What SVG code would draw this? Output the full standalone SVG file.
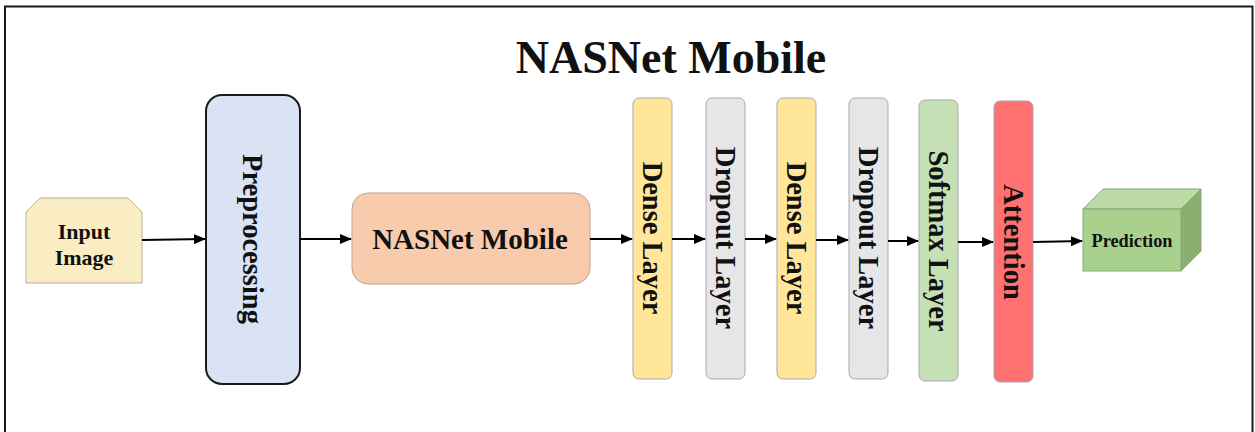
<svg xmlns="http://www.w3.org/2000/svg" width="1255" height="432" viewBox="0 0 1255 432">
  <style>
    .lbl { font-family: "Liberation Serif", "Times New Roman", serif; font-weight: bold; fill: #111; text-anchor: middle; }
    .vt { font-size: 28.5px; dominant-baseline: central; }
    .layer { stroke: #a7a9b3; stroke-width: 1; }
    .conn { stroke: #000; stroke-width: 2; fill: none; marker-end: url(#arrow); }
  </style>
  <defs>
    <marker id="arrow" markerWidth="12" markerHeight="10" refX="11" refY="5" orient="auto" markerUnits="userSpaceOnUse">
      <path d="M0,0 L12,5 L0,10 Z" fill="#000"/>
    </marker>
  </defs>

  <rect x="0" y="0" width="1255" height="432" fill="#fff"/>
  <!-- outer frame, open at the bottom -->
  <path d="M5,440 V6.5 H1252.5 V440" fill="none" stroke="#1a1a1a" stroke-width="2"/>

  <text class="lbl" x="671" y="73" font-size="46">NASNet Mobile</text>

  <g id="input-image">
    <path d="M26,212 L40,198 L128,198 L142,212 L142,283 L26,283 Z" fill="#FBEDC3" stroke="#b5b0a0" stroke-width="1"/>
    <text class="lbl" x="84" y="239" font-size="22">Input</text>
    <text class="lbl" x="84" y="265" font-size="22">Image</text>
  </g>

  <g id="preprocessing">
    <rect x="206" y="95" width="94" height="289" rx="16" fill="#DAE3F3" stroke="#1a1a1a" stroke-width="2"/>
    <text class="lbl vt" transform="translate(252,239) rotate(90)">Preprocessing</text>
  </g>

  <g id="nasnet-mobile">
    <rect x="352" y="193" width="238" height="91" rx="16" fill="#F8CBAD" stroke="#b9a595" stroke-width="1"/>
    <text class="lbl" x="470" y="249" font-size="29">NASNet Mobile</text>
  </g>

  <g id="dense-1">
    <rect class="layer" x="633" y="98" width="39" height="281" rx="6" fill="#FFE699"/>
    <text class="lbl vt" transform="translate(652.5,238) rotate(90)">Dense Layer</text>
  </g>

  <g id="dropout-1">
    <rect class="layer" x="706" y="98" width="39" height="281" rx="6" fill="#E6E6E8"/>
    <text class="lbl vt" transform="translate(725.5,238) rotate(90)">Dropout Layer</text>
  </g>

  <g id="dense-2">
    <rect class="layer" x="777" y="98" width="39" height="281" rx="6" fill="#FFE699"/>
    <text class="lbl vt" transform="translate(796.5,238) rotate(90)">Dense Layer</text>
  </g>

  <g id="dropout-2">
    <rect class="layer" x="849" y="98" width="39" height="281" rx="6" fill="#E6E6E8"/>
    <text class="lbl vt" transform="translate(868.5,238) rotate(90)">Dropout Layer</text>
  </g>

  <g id="softmax">
    <rect class="layer" x="919" y="100" width="39" height="281" rx="6" fill="#C5E0B4"/>
    <text class="lbl vt" transform="translate(938.5,241) rotate(90)">Softmax Layer</text>
  </g>

  <g id="attention">
    <rect class="layer" x="994" y="101" width="39" height="281" rx="6" fill="#FF7170"/>
    <text class="lbl vt" transform="translate(1013.5,242) rotate(90)">Attention</text>
  </g>

  <g id="prediction">
    <path d="M1083,209 L1103,189 L1201,189 L1181,209 Z" fill="#BCDBA6" stroke="#8da57f" stroke-width="1"/>
    <path d="M1181,209 L1201,189 L1201,251 L1181,271 Z" fill="#8AAE6E" stroke="#8da57f" stroke-width="1"/>
    <rect x="1083" y="209" width="98" height="62" fill="#A9D18E" stroke="#8da57f" stroke-width="1"/>
    <text class="lbl" x="1132" y="247" font-size="18.3">Prediction</text>
  </g>

  <g id="connectors">
    <line class="conn" x1="142" y1="240" x2="205" y2="239"/>
    <line class="conn" x1="300" y1="239" x2="351" y2="239"/>
    <line class="conn" x1="590" y1="239" x2="632" y2="239"/>
    <line class="conn" x1="672" y1="239" x2="705" y2="239"/>
    <line class="conn" x1="745" y1="239" x2="776" y2="239"/>
    <line class="conn" x1="816" y1="240" x2="848" y2="240"/>
    <line class="conn" x1="888" y1="241" x2="918" y2="241"/>
    <line class="conn" x1="958" y1="242" x2="993" y2="242"/>
    <line class="conn" x1="1033" y1="242" x2="1082" y2="241"/>
  </g>
</svg>
